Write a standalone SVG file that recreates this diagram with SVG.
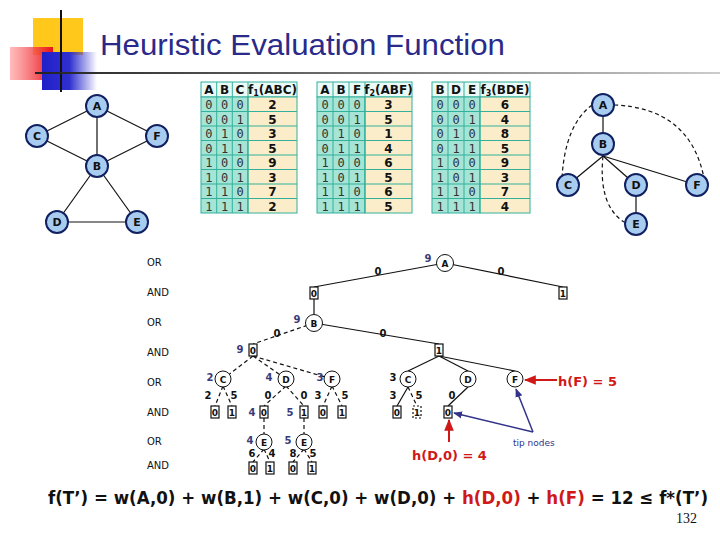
<svg xmlns="http://www.w3.org/2000/svg" width="720" height="540" viewBox="0 0 720 540">
<defs>
<linearGradient id="red" x1="0" x2="1"><stop offset="0" stop-color="#ff9090" stop-opacity="0.6"/><stop offset="1" stop-color="#e8101a"/></linearGradient>
<linearGradient id="blue" x1="0" x2="1"><stop offset="0" stop-color="#2020c8"/><stop offset="0.5" stop-color="#3030d0"/><stop offset="1" stop-color="#3030d0" stop-opacity="0"/></linearGradient>
<linearGradient id="hl" x1="0" x2="1"><stop offset="0" stop-color="#222"/><stop offset="0.5" stop-color="#777"/><stop offset="1" stop-color="#ccc"/></linearGradient>
<marker id="ar" viewBox="0 0 10 10" refX="9" refY="5" markerWidth="6" markerHeight="6" orient="auto"><path d="M0,1 L10,5 L0,9 z" fill="#d01818"/></marker>
<marker id="ab" viewBox="0 0 10 10" refX="9" refY="5" markerWidth="6" markerHeight="6" orient="auto"><path d="M0,1 L10,5 L0,9 z" fill="#33338a"/></marker>
</defs>
<style>
.g circle{fill:#a8ccf0;stroke:#102060;stroke-width:2}
.g text{font:bold 11px "DejaVu Sans",sans-serif;text-anchor:middle;fill:#111}
.e line,.e path{stroke:#111;stroke-width:1.2;fill:none}
.d{stroke-dasharray:4,3}
.tc{fill:#a6e4d6;stroke:#33b09c;stroke-width:1}
.tf{fill:#fbedc9;stroke:#33b09c;stroke-width:1}
.th{fill:#eafaf6;stroke:#33b09c;stroke-width:1}
.tt{font:12px "DejaVu Sans Mono",monospace;text-anchor:middle;fill:#333}
.tb{font:bold 12px "DejaVu Sans",sans-serif;text-anchor:middle;fill:#111}
.t circle{fill:#fff;stroke:#111;stroke-width:1}
.t rect{fill:#fff;stroke:#111;stroke-width:1.2}
.t text{font:bold 9px "DejaVu Sans",sans-serif;text-anchor:middle;fill:#111}
.n{font:bold 10px "DejaVu Sans",sans-serif;text-anchor:middle;fill:#111}
.w{fill:#3a3a78}
.lvl{font:10px "DejaVu Sans",sans-serif;fill:#111}
.red{font:bold 13px "DejaVu Sans",sans-serif;fill:#d01818}
</style>
<rect width="720" height="540" fill="#fff"/>
<rect x="33" y="18" width="50" height="37" fill="#ffc81a"/>
<rect x="10" y="47" width="43" height="33" fill="url(#red)"/>
<rect x="42" y="52" width="55" height="38" fill="url(#blue)"/>
<line x1="61" y1="10" x2="61" y2="92" stroke="#111" stroke-width="2"/>
<rect x="35" y="72" width="685" height="2" fill="url(#hl)"/>
<text x="100" y="55" font-family="Liberation Sans,sans-serif" font-size="30" textLength="405" lengthAdjust="spacingAndGlyphs" fill="#2a2a8a">Heuristic Evaluation Function</text>

<g class="e">
<line x1="97" y1="106" x2="37" y2="136"/><line x1="97" y1="106" x2="157" y2="136"/><line x1="97" y1="106" x2="97" y2="166"/>
<line x1="37" y1="136" x2="97" y2="166"/><line x1="157" y1="136" x2="97" y2="166"/>
<line x1="97" y1="166" x2="57" y2="222"/><line x1="97" y1="166" x2="137" y2="222"/><line x1="57" y1="222" x2="137" y2="222"/>
</g>
<g class="g" id="lA"><circle cx="97" cy="106" r="11"/><text x="97" y="110">A</text></g>
<g class="g" id="lC"><circle cx="37" cy="136" r="11"/><text x="37" y="140">C</text></g>
<g class="g" id="lF"><circle cx="157" cy="136" r="11"/><text x="157" y="140">F</text></g>
<g class="g" id="lB"><circle cx="97" cy="166" r="11"/><text x="97" y="170">B</text></g>
<g class="g" id="lD"><circle cx="57" cy="222" r="11"/><text x="57" y="226">D</text></g>
<g class="g" id="lE"><circle cx="137" cy="222" r="11"/><text x="137" y="226">E</text></g>

<g class="e">
<line x1="603" y1="105" x2="603" y2="144" stroke-width="2"/>
<line x1="603" y1="156" x2="568" y2="185"/><line x1="603" y1="156" x2="636" y2="185"/><line x1="603" y1="156" x2="697" y2="185"/>
<line x1="636" y1="185" x2="636" y2="224"/>
<path class="d" d="M592,105 Q565,125 562,178"/>
<path class="d" d="M614,105 Q690,108 704,178"/>
<path class="d" d="M603,156 Q598,205 624,222"/>
</g>
<g class="g" id="rA"><circle cx="603" cy="105" r="11"/><text x="603" y="109">A</text></g>
<g class="g" id="rB"><circle cx="603" cy="144" r="11"/><text x="603" y="148">B</text></g>
<g class="g" id="rC"><circle cx="568" cy="185" r="11"/><text x="568" y="189">C</text></g>
<g class="g" id="rD"><circle cx="636" cy="185" r="11"/><text x="636" y="189">D</text></g>
<g class="g" id="rF"><circle cx="697" cy="185" r="11"/><text x="697" y="189">F</text></g>
<g class="g" id="rE"><circle cx="636" cy="224" r="11"/><text x="636" y="228">E</text></g>

<g id="t1">
<rect class="th" x="201" y="82" width="96" height="15"/>
<rect class="tc" x="201" y="97" width="47" height="116"/>
<rect class="tf" x="248" y="97" width="49" height="116"/>
<path d="M216.7,82V213M232.3,82V213M248,82V213M201,111.5H297M201,126H297M201,140.5H297M201,155H297M201,169.5H297M201,184H297M201,198.5H297" stroke="#33b09c" fill="none"/>
<text class="tb" x="208.8" y="94">A</text><text class="tb" x="224.5" y="94">B</text><text class="tb" x="240" y="94">C</text><text class="tb" x="272.5" y="94">f<tspan font-size="8" dy="2">1</tspan><tspan dy="-2">(ABC)</tspan></text>
<text class="tt" x="208.8" y="109">0</text><text class="tt" x="224.5" y="109">0</text><text class="tt" x="240" y="109">0</text><text class="tb" x="272.5" y="109">2</text>
<text class="tt" x="208.8" y="123.5">0</text><text class="tt" x="224.5" y="123.5">0</text><text class="tt" x="240" y="123.5">1</text><text class="tb" x="272.5" y="123.5">5</text>
<text class="tt" x="208.8" y="138">0</text><text class="tt" x="224.5" y="138">1</text><text class="tt" x="240" y="138">0</text><text class="tb" x="272.5" y="138">3</text>
<text class="tt" x="208.8" y="152.5">0</text><text class="tt" x="224.5" y="152.5">1</text><text class="tt" x="240" y="152.5">1</text><text class="tb" x="272.5" y="152.5">5</text>
<text class="tt" x="208.8" y="167">1</text><text class="tt" x="224.5" y="167">0</text><text class="tt" x="240" y="167">0</text><text class="tb" x="272.5" y="167">9</text>
<text class="tt" x="208.8" y="181.5">1</text><text class="tt" x="224.5" y="181.5">0</text><text class="tt" x="240" y="181.5">1</text><text class="tb" x="272.5" y="181.5">3</text>
<text class="tt" x="208.8" y="196">1</text><text class="tt" x="224.5" y="196">1</text><text class="tt" x="240" y="196">0</text><text class="tb" x="272.5" y="196">7</text>
<text class="tt" x="208.8" y="210.5">1</text><text class="tt" x="224.5" y="210.5">1</text><text class="tt" x="240" y="210.5">1</text><text class="tb" x="272.5" y="210.5">2</text>
</g>
<g id="t2" transform="translate(116,0)">
<rect class="th" x="201" y="82" width="95" height="15"/>
<rect class="tc" x="201" y="97" width="48" height="116"/>
<rect class="tf" x="249" y="97" width="47" height="116"/>
<path d="M217,82V213M233,82V213M249,82V213M201,111.5H296M201,126H296M201,140.5H296M201,155H296M201,169.5H296M201,184H296M201,198.5H296" stroke="#33b09c" fill="none"/>
<text class="tb" x="209" y="94">A</text><text class="tb" x="225" y="94">B</text><text class="tb" x="241" y="94">F</text><text class="tb" x="272.5" y="94">f<tspan font-size="8" dy="2">2</tspan><tspan dy="-2">(ABF)</tspan></text>
<text class="tt" x="209" y="109">0</text><text class="tt" x="225" y="109">0</text><text class="tt" x="241" y="109">0</text><text class="tb" x="272.5" y="109">3</text>
<text class="tt" x="209" y="123.5">0</text><text class="tt" x="225" y="123.5">0</text><text class="tt" x="241" y="123.5">1</text><text class="tb" x="272.5" y="123.5">5</text>
<text class="tt" x="209" y="138">0</text><text class="tt" x="225" y="138">1</text><text class="tt" x="241" y="138">0</text><text class="tb" x="272.5" y="138">1</text>
<text class="tt" x="209" y="152.5">0</text><text class="tt" x="225" y="152.5">1</text><text class="tt" x="241" y="152.5">1</text><text class="tb" x="272.5" y="152.5">4</text>
<text class="tt" x="209" y="167">1</text><text class="tt" x="225" y="167">0</text><text class="tt" x="241" y="167">0</text><text class="tb" x="272.5" y="167">6</text>
<text class="tt" x="209" y="181.5">1</text><text class="tt" x="225" y="181.5">0</text><text class="tt" x="241" y="181.5">1</text><text class="tb" x="272.5" y="181.5">5</text>
<text class="tt" x="209" y="196">1</text><text class="tt" x="225" y="196">1</text><text class="tt" x="241" y="196">0</text><text class="tb" x="272.5" y="196">6</text>
<text class="tt" x="209" y="210.5">1</text><text class="tt" x="225" y="210.5">1</text><text class="tt" x="241" y="210.5">1</text><text class="tb" x="272.5" y="210.5">5</text>
</g>
<g id="t3" transform="translate(231,0)">
<rect class="th" x="201" y="82" width="98" height="15"/>
<rect class="tc" x="201" y="97" width="48" height="116"/>
<rect class="tf" x="249" y="97" width="50" height="116"/>
<path d="M217,82V213M233,82V213M249,82V213M201,111.5H299M201,126H299M201,140.5H299M201,155H299M201,169.5H299M201,184H299M201,198.5H299" stroke="#33b09c" fill="none"/>
<text class="tb" x="209" y="94">B</text><text class="tb" x="225" y="94">D</text><text class="tb" x="241" y="94">E</text><text class="tb" x="274" y="94">f<tspan font-size="8" dy="2">3</tspan><tspan dy="-2">(BDE)</tspan></text>
<text class="tt" x="209" y="109">0</text><text class="tt" x="225" y="109">0</text><text class="tt" x="241" y="109">0</text><text class="tb" x="274" y="109">6</text>
<text class="tt" x="209" y="123.5">0</text><text class="tt" x="225" y="123.5">0</text><text class="tt" x="241" y="123.5">1</text><text class="tb" x="274" y="123.5">4</text>
<text class="tt" x="209" y="138">0</text><text class="tt" x="225" y="138">1</text><text class="tt" x="241" y="138">0</text><text class="tb" x="274" y="138">8</text>
<text class="tt" x="209" y="152.5">0</text><text class="tt" x="225" y="152.5">1</text><text class="tt" x="241" y="152.5">1</text><text class="tb" x="274" y="152.5">5</text>
<text class="tt" x="209" y="167">1</text><text class="tt" x="225" y="167">0</text><text class="tt" x="241" y="167">0</text><text class="tb" x="274" y="167">9</text>
<text class="tt" x="209" y="181.5">1</text><text class="tt" x="225" y="181.5">0</text><text class="tt" x="241" y="181.5">1</text><text class="tb" x="274" y="181.5">3</text>
<text class="tt" x="209" y="196">1</text><text class="tt" x="225" y="196">1</text><text class="tt" x="241" y="196">0</text><text class="tb" x="274" y="196">7</text>
<text class="tt" x="209" y="210.5">1</text><text class="tt" x="225" y="210.5">1</text><text class="tt" x="241" y="210.5">1</text><text class="tb" x="274" y="210.5">4</text>
</g>

<g class="lvl">
<text x="147" y="266">OR</text><text x="147" y="296">AND</text><text x="147" y="326">OR</text><text x="147" y="356">AND</text>
<text x="147" y="386">OR</text><text x="147" y="416">AND</text><text x="147" y="445">OR</text><text x="147" y="469">AND</text>
</g>

<g class="e" id="tree-edges">
<line x1="445" y1="263" x2="314" y2="287"/><line x1="445" y1="263" x2="563" y2="287"/>
<line x1="314" y1="299" x2="314" y2="314"/>
<line class="d" x1="314" y1="323" x2="253" y2="344"/><line x1="314" y1="323" x2="439" y2="344"/>
<line class="d" x1="253" y1="356" x2="223" y2="379"/><line class="d" x1="253" y1="356" x2="286" y2="379"/><line class="d" x1="253" y1="356" x2="332" y2="379"/>
<line class="d" x1="223" y1="386" x2="215" y2="406"/><line class="d" x1="223" y1="386" x2="232" y2="406"/>
<line class="d" x1="286" y1="386" x2="264" y2="406"/><line class="d" x1="286" y1="386" x2="304" y2="406"/>
<line class="d" x1="332" y1="386" x2="323" y2="406"/><line class="d" x1="332" y1="386" x2="342" y2="406"/>
<line class="d" x1="264" y1="418" x2="264" y2="434"/><line class="d" x1="304" y1="418" x2="304" y2="434"/>
<line class="d" x1="264" y1="449" x2="253" y2="462"/><line class="d" x1="264" y1="449" x2="270" y2="462"/>
<line class="d" x1="304" y1="449" x2="293" y2="462"/><line class="d" x1="304" y1="449" x2="312" y2="462"/>
<line x1="439" y1="356" x2="408" y2="371"/><line x1="439" y1="356" x2="468" y2="371"/><line x1="439" y1="356" x2="515" y2="371"/>
<line x1="408" y1="387" x2="397" y2="406"/><line class="d" x1="408" y1="387" x2="417" y2="406"/>
<line x1="468" y1="387" x2="448" y2="406"/>
</g>

<g class="t">
<g id="nA"><circle cx="445" cy="263" r="8.5"/><text x="445" y="266.5">A</text></g>
<g id="b0"><rect x="310" y="287" width="8" height="12"/><text x="314" y="296.5">0</text></g>
<g id="b1"><rect x="559" y="287" width="8" height="12"/><text x="563" y="296.5">1</text></g>
<g id="nB"><circle cx="314" cy="323" r="8.5"/><text x="314" y="326.5">B</text></g>
<g id="bB0"><rect x="249" y="344" width="8" height="12"/><text x="253" y="353.5">0</text></g>
<g id="bB1"><rect x="435" y="344" width="8" height="12"/><text x="439" y="353.5">1</text></g>
<g id="nC1"><circle cx="223" cy="379" r="8"/><text x="223" y="382.5">C</text></g>
<g id="nD1"><circle cx="286" cy="379" r="8"/><text x="286" y="382.5">D</text></g>
<g id="nF1"><circle cx="332" cy="379" r="8"/><text x="332" y="382.5">F</text></g>
<g><rect x="211" y="406" width="8" height="12"/><text x="215" y="415.5">0</text></g>
<g><rect x="228" y="406" width="8" height="12"/><text x="232" y="415.5">1</text></g>
<g><rect x="260" y="406" width="8" height="12"/><text x="264" y="415.5">0</text></g>
<g><rect x="300" y="406" width="8" height="12"/><text x="304" y="415.5">1</text></g>
<g><rect x="319" y="406" width="8" height="12"/><text x="323" y="415.5">0</text></g>
<g><rect x="338" y="406" width="8" height="12"/><text x="342" y="415.5">1</text></g>
<g id="nE1"><circle cx="264" cy="442" r="8"/><text x="264" y="445.5">E</text></g>
<g id="nE2"><circle cx="304" cy="442" r="8"/><text x="304" y="445.5">E</text></g>
<g><rect x="249" y="462" width="8" height="12"/><text x="253" y="471.5">0</text></g>
<g><rect x="266" y="462" width="8" height="12"/><text x="270" y="471.5">1</text></g>
<g><rect x="289" y="462" width="8" height="12"/><text x="293" y="471.5">0</text></g>
<g><rect x="308" y="462" width="8" height="12"/><text x="312" y="471.5">1</text></g>
<g id="nC2"><circle cx="408" cy="379" r="8"/><text x="408" y="382.5">C</text></g>
<g id="nD2"><circle cx="468" cy="379" r="8"/><text x="468" y="382.5">D</text></g>
<g id="nF2"><circle cx="515" cy="379" r="8"/><text x="515" y="382.5">F</text></g>
<g><rect x="393" y="406" width="8" height="12"/><text x="397" y="415.5">0</text></g>
<g><rect x="413" y="406" width="8" height="12" stroke-dasharray="2,2"/><text x="417" y="415.5">1</text></g>
<g id="bD0"><rect x="444" y="406" width="8" height="12"/><text x="448" y="415.5">0</text></g>
</g>

<g class="n">
<text class="w" x="428" y="262">9</text><text x="378" y="275">0</text><text x="501" y="275">0</text>
<text class="w" x="297" y="323">9</text><text x="277" y="337">0</text><text x="383" y="337">0</text>
<text class="w" x="240" y="353">9</text>
<text class="w" x="210" y="381">2</text><text class="w" x="269" y="381">4</text><text class="w" x="320" y="381">3</text>
<text x="208" y="399">2</text><text x="234" y="399">5</text><text x="268" y="399">0</text><text x="304" y="399">0</text><text x="318" y="399">3</text><text x="345" y="399">5</text>
<text class="w" x="252" y="416">4</text><text class="w" x="290" y="416">5</text>
<text class="w" x="250" y="444">4</text><text class="w" x="288" y="444">5</text>
<text x="252" y="457">6</text><text x="272" y="457">4</text><text x="293" y="457">8</text><text x="313" y="457">5</text>
<text x="393" y="381">3</text><text x="393" y="399">3</text><text x="419" y="399">5</text><text x="452" y="399">0</text>
</g>

<g id="annot">
<line x1="557" y1="380" x2="525" y2="380" stroke="#d01818" stroke-width="2" marker-end="url(#ar)"/>
<text class="red" x="558" y="386">h(F) = 5</text>
<line x1="449" y1="442" x2="449" y2="420" stroke="#d01818" stroke-width="2" marker-end="url(#ar)"/>
<text class="red" x="412" y="460">h(D,0) = 4</text>
<line x1="533" y1="432" x2="454" y2="413" stroke="#33338a" stroke-width="1.5" marker-end="url(#ab)"/>
<line x1="533" y1="432" x2="516" y2="389" stroke="#33338a" stroke-width="1.5" marker-end="url(#ab)"/>
<text x="513" y="446" font-family="DejaVu Sans,sans-serif" font-size="9" fill="#33338a">tip nodes</text>
</g>

<text x="48" y="504" font-family="DejaVu Sans,sans-serif" font-weight="bold" font-size="18" textLength="660" lengthAdjust="spacingAndGlyphs" fill="#111">f(T’) = w(A,0) + w(B,1) + w(C,0) + w(D,0) + <tspan fill="#d01818">h(D,0)</tspan> + <tspan fill="#d01818">h(F)</tspan> = 12 ≤ f*(T’)</text>
<text x="676" y="523" font-family="Liberation Serif,serif" font-size="14" fill="#111">132</text>
</svg>
